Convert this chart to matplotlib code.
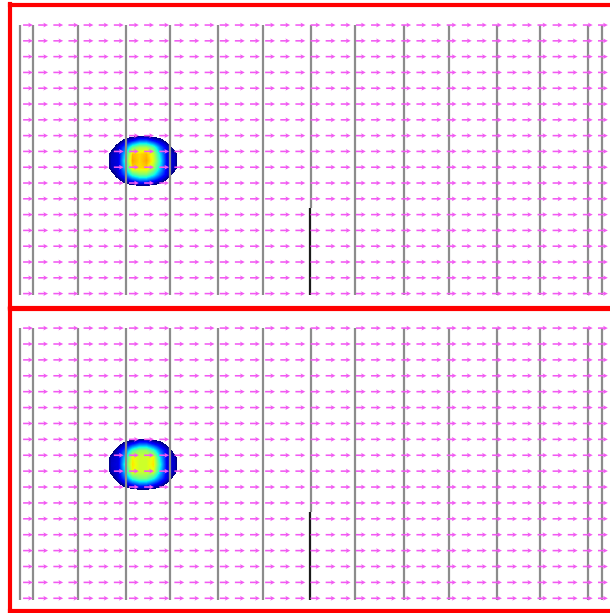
import numpy as np
import matplotlib
matplotlib.use("Agg")
import matplotlib.pyplot as plt

# -----------------------------
# Data (grid units: one unit = one vector spacing)
# -----------------------------
n_cols = 39
n_rows = 18
flow_u = 1.0  # uniform flow to the right
flow_v = 0.0

# vertical wall / probe lines (x position in grid units)
wall_x = [-0.53, 0.33, 3.30, 6.48, 9.39, 12.56, 15.53, 18.70, 21.61,
          24.85, 27.83, 31.00, 33.84, 37.01, 37.94]
wall_y0 = 0.0
wall_y1 = 17.1

# black segment (split wall)
split_x = 18.64
split_y0 = 11.6
split_y1 = 17.1

# blob field (jet colour values), 0 = empty
blob_top = [
    [0, 0, 0, 0, 0, 0, 0, 0, 0, 0, 0, 0],
    [0, 0, 0.06, 0.14, 0.20, 0.28, 0.28, 0.20, 0.14, 0.06, 0, 0],
    [0, 0.06, 0.17, 0.30, 0.52, 0.60, 0.60, 0.50, 0.30, 0.17, 0.06, 0],
    [0, 0.15, 0.18, 0.42, 0.74, 0.71, 0.74, 0.64, 0.40, 0.18, 0.15, 0],
    [0, 0.16, 0.18, 0.48, 0.76, 0.71, 0.76, 0.66, 0.44, 0.18, 0.16, 0],
    [0, 0.15, 0.18, 0.42, 0.72, 0.71, 0.72, 0.60, 0.40, 0.18, 0.15, 0],
    [0, 0.06, 0.17, 0.30, 0.48, 0.55, 0.55, 0.45, 0.30, 0.17, 0.06, 0],
    [0, 0, 0.06, 0.14, 0.20, 0.26, 0.26, 0.20, 0.14, 0.06, 0, 0],
    [0, 0, 0, 0, 0, 0, 0, 0, 0, 0, 0, 0],
]
blob_bottom = [
    [0, 0, 0, 0, 0, 0, 0, 0, 0, 0, 0, 0],
    [0, 0, 0.06, 0.14, 0.20, 0.28, 0.28, 0.20, 0.14, 0.06, 0, 0],
    [0, 0.06, 0.17, 0.30, 0.50, 0.58, 0.58, 0.48, 0.30, 0.17, 0.06, 0],
    [0, 0.15, 0.18, 0.42, 0.68, 0.64, 0.64, 0.68, 0.40, 0.18, 0.15, 0],
    [0, 0.16, 0.18, 0.48, 0.70, 0.64, 0.64, 0.70, 0.44, 0.18, 0.16, 0],
    [0, 0.15, 0.18, 0.42, 0.68, 0.64, 0.64, 0.66, 0.40, 0.18, 0.15, 0],
    [0, 0.06, 0.17, 0.30, 0.48, 0.55, 0.55, 0.45, 0.30, 0.17, 0.06, 0],
    [0, 0, 0.06, 0.14, 0.20, 0.26, 0.26, 0.20, 0.14, 0.06, 0, 0],
    [0, 0, 0, 0, 0, 0, 0, 0, 0, 0, 0, 0],
]
blob_extent = (4.83, 10.37, 10.57, 6.65)
blob_min = 0.1

# -----------------------------
# Plot
# -----------------------------
fig = plt.figure(figsize=(6.10, 6.13), dpi=100)
W, H = 610.0, 613.0

cmap = plt.get_cmap("jet").copy()
cmap.set_under((1, 1, 1, 0))

panels = [
    # (left px, top px, bottom px, blob, ylim)
    (10, 4.5, 307.5, blob_top, (17.88, -1.30)),
    (10, 309.5, 611.0, blob_bottom, (17.80, -1.17)),
]

X, Y = np.meshgrid(np.arange(n_cols), np.arange(n_rows))
U = np.full(X.shape, flow_u)
V = np.full(X.shape, flow_v)

for left, top, bottom, blob, ylim in panels:
    ax = fig.add_axes([left / W, 1 - bottom / H, (620 - left) / W, (bottom - top) / H])
    ax.set_xlim(-1.19, 39.13)
    ax.set_ylim(*ylim)

    ax.imshow(np.array(blob, dtype=float), cmap=cmap, vmin=blob_min, vmax=1,
              extent=blob_extent, interpolation="bilinear",
              interpolation_stage="data", aspect="auto", zorder=1)

    for x in wall_x:
        ax.plot([x, x], [wall_y0, wall_y1 if x != 18.70 else split_y0],
                color="#8c8c8c", lw=1.6, zorder=2, solid_capstyle="butt")
    ax.plot([split_x, split_x], [split_y0, split_y1], color="#1a1a1a",
            lw=1.6, zorder=3, solid_capstyle="butt")

    ax.quiver(X, Y, U * 0.65, V, angles="xy", scale_units="xy", scale=1,
              pivot="middle", color="#f25af2", width=0.0026,
              headwidth=3, headlength=3, headaxislength=2.5, zorder=4)

    ax.set_xticks([])
    ax.set_yticks([])
    for s in ax.spines.values():
        s.set_color("red")
        s.set_linewidth(3)
    ax.set_facecolor("white")

plt.savefig("out.png", dpi=100)
